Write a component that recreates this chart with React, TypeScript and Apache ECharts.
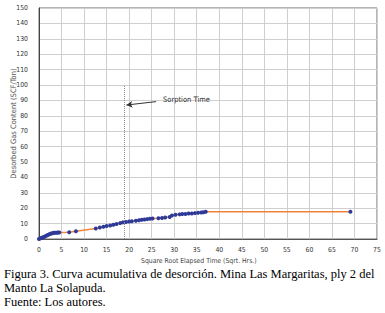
import React, { useEffect, useRef } from "react";
import * as echarts from "echarts";

const xValues = [0, 0.3, 0.6, 0.9, 1.2, 1.5, 1.8, 2.1, 2.4, 2.7, 3.0, 3.3, 3.6, 3.9, 4.2, 4.5, 6.7, 8.2, 12.6, 13.5, 14.3, 15.0, 15.8, 16.5, 17.2, 18.0, 18.6, 19.3, 20.0, 20.6, 21.5, 22.2, 22.8, 23.4, 24.0, 24.6, 25.2, 26.5, 27.3, 28.0, 29.0, 29.5, 30.3, 31.2, 31.8, 32.5, 33.2, 33.9, 34.6, 35.3, 36.0, 36.5, 37.0, 69.1];
const yValues = [0, 0.4, 0.8, 1.2, 1.5, 2.0, 2.4, 2.8, 3.2, 3.6, 3.8, 4.0, 4.1, 4.1, 4.2, 4.2, 4.4, 5.0, 6.8, 7.5, 8.0, 8.4, 8.8, 9.2, 9.7, 10.3, 10.8, 11.1, 11.3, 11.5, 11.8, 12.2, 12.5, 12.7, 12.9, 13.1, 13.3, 13.5, 13.7, 13.9, 14.3, 15.2, 15.8, 16.0, 16.2, 16.3, 16.5, 16.6, 16.8, 17.0, 17.2, 17.4, 17.7, 17.7];

const sorptionTime = 18.9;
const sorptionTop = 100;
const arrowHead = [19.4, 87.0];
const arrowTail = [26.0, 89.2];
const sorptionLabel = "Sorption Time";
const labelAnchor = [27.4, 90.4];

const xTitle = "Square Root Elapsed Time (Sqrt. Hrs.)";
const yTitle = "Desorbed Gas Content (SCF/Ton)";
const captionLines = [
  "Figura 3. Curva acumulativa de desorción. Mina Las Margaritas, ply 2 del",
  "Manto La Solapuda.",
  "Fuente: Los autores.",
];

const narrow = "'Liberation Sans Narrow', 'DejaVu Sans Condensed', sans-serif";

export default function App() {
  const ref = useRef<HTMLDivElement>(null);
  useEffect(() => {
    if (!ref.current) return;
    const chart = echarts.init(ref.current, undefined, { renderer: "svg" });
    const points = xValues.map((x, i) => [x, yValues[i]]);
    chart.setOption({
      animation: false,
      backgroundColor: "#ffffff",
      grid: {
        left: 39,
        top: 8,
        right: 8,
        bottom: 74,
        show: true,
        containLabel: false,
        outerBoundsMode: "none",
        borderColor: "#6a6a6a",
        borderWidth: 1,
      },
      xAxis: {
        type: "value",
        min: 0,
        max: 75,
        interval: 5,
        axisLine: { show: true, onZero: false, lineStyle: { color: "#555" } },
        axisTick: { show: false },
        splitLine: { show: true, lineStyle: { color: "#cfcfcf", width: 1 } },
        axisLabel: { color: "#333", fontFamily: narrow, fontSize: 6.8, margin: 7 },
      },
      yAxis: {
        type: "value",
        min: 0,
        max: 150,
        interval: 10,
        name: yTitle,
        nameLocation: "middle",
        nameGap: 22,
        nameMoveOverlap: false,
        nameTextStyle: { color: "#555", fontFamily: narrow, fontSize: 7.5 },
        axisLine: { show: true, lineStyle: { color: "#444" } },
        axisTick: { show: false },
        splitLine: { show: true, lineStyle: { color: "#cfcfcf", width: 1 } },
        axisLabel: { color: "#333", fontFamily: narrow, fontSize: 6.8, margin: 11 },
      },
      series: [
        {
          type: "line",
          data: points,
          symbol: "circle",
          symbolSize: 4,
          showAllSymbol: true,
          itemStyle: { color: "#2e3a98" },
          lineStyle: { color: "#f2843a", width: 1.5 },
          z: 3,
          markPoint: {
            silent: true,
            symbol: "circle",
            symbolSize: 1,
            itemStyle: { color: "rgba(0,0,0,0)" },
            data: [
              {
                coord: labelAnchor,
                label: {
                  show: true,
                  formatter: sorptionLabel,
                  position: "right",
                  distance: 0,
                  color: "#333",
                  fontFamily: narrow,
                  fontSize: 7.5,
                },
              },
            ],
          },
        },
        {
          type: "line",
          data: [],
          markLine: {
            silent: true,
            symbol: "none",
            label: { show: false },
            lineStyle: { color: "#8a8a8a", type: [1, 1], width: 1 },
            data: [[{ coord: [sorptionTime, 0] }, { coord: [sorptionTime, sorptionTop] }]],
          },
        },
        {
          type: "line",
          data: [],
          markLine: {
            silent: true,
            symbol: ["none", "arrow"],
            symbolSize: [5, 6],
            label: { show: false },
            lineStyle: { color: "#333", type: "solid", width: 1 },
            data: [[{ coord: arrowTail }, { coord: arrowHead }]],
          },
        },
      ],
      graphic: [
        {
          type: "text",
          left: 141,
          top: 257,
          style: { text: xTitle, fill: "#444", font: `6.8px ${narrow}` },
        },
        ...captionLines.map((t, i) => ({
          type: "text",
          left: 4,
          top: 267 + i * 14,
          style: { text: t, fill: "#000", font: "12.5px 'Liberation Serif', serif" },
        })),
      ],
    });
    return () => chart.dispose();
  }, []);
  return (
    <div
      ref={ref}
      style={{ position: "fixed", left: 0, top: 0, width: 385, height: 313, background: "#fff" }}
    />
  );
}
